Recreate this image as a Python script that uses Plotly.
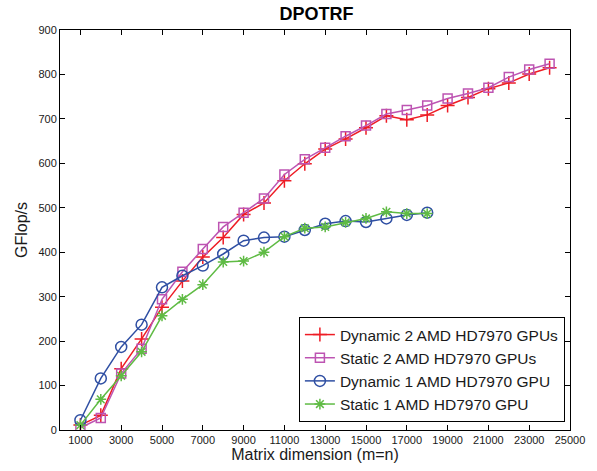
import plotly.graph_objects as go

# Matrix sizes (m = n)
sizes_2gpu = [1000, 2000, 3000, 4000, 5000, 6000, 7000, 8000, 9000, 10000, 11000, 12000,
              13000, 14000, 15000, 16000, 17000, 18000, 19000, 20000, 21000, 22000, 23000, 24000]
sizes_1gpu = [1000, 2000, 3000, 4000, 5000, 6000, 7000, 8000, 9000, 10000, 11000, 12000,
              13000, 14000, 15000, 16000, 17000, 18000]

# Performance in GFlop/s
dynamic_2gpu = [11, 33, 138, 205, 276, 335, 389, 433, 485, 511, 561, 599,
                632, 655, 680, 707, 698, 709, 730, 748, 768, 781, 801, 815]
static_2gpu = [5, 27, 127, 183, 294, 356, 407, 457, 489, 521, 575, 609,
               635, 661, 685, 711, 720, 730, 746, 757, 770, 794, 811, 824]
dynamic_1gpu = [22, 116, 187, 237, 321, 347, 370, 396, 426, 433, 435, 450,
                464, 470, 468, 476, 484, 489]
static_1gpu = [11, 69, 122, 176, 257, 294, 327, 378, 380, 400, 435, 454,
               457, 467, 476, 491, 487, 487]

x_ticks = list(range(1000, 25001, 2000))
x_tick_labels = [str(v) for v in x_ticks]
y_ticks = list(range(0, 901, 100))
y_tick_labels = [str(v) for v in y_ticks]

series = [
    ("Dynamic 2 AMD HD7970 GPUs", sizes_2gpu, dynamic_2gpu, "#ee1c25", "cross-thin", 10),
    ("Static 2 AMD HD7970 GPUs", sizes_2gpu, static_2gpu, "#bd54b2", "square-open", 9),
    ("Dynamic 1 AMD HD7970 GPU", sizes_1gpu, dynamic_1gpu, "#2f4fa3", "circle-open", 11),
    ("Static 1 AMD HD7970 GPU", sizes_1gpu, static_1gpu, "#5fbb44", "asterisk-open", 9),
]

FONT = "Liberation Sans, Arial, sans-serif"

fig = go.Figure()
for name, xs, ys, color, symbol, size in series:
    fig.add_trace(go.Scatter(
        x=xs, y=ys, name=name, mode="lines+markers",
        line=dict(color=color, width=1.5),
        marker=dict(symbol=symbol, size=size, color=color,
                    line=dict(color=color, width=1.5)),
    ))

axis_common = dict(
    showline=True, linecolor="black", linewidth=1, mirror="ticks",
    ticks="inside", ticklen=5, tickcolor="black", showgrid=False, zeroline=False,
    tickfont=dict(family=FONT, size=11, color="#1a1a1a"),
)

fig.update_layout(
    width=597, height=471,
    margin=dict(l=60, r=23, t=30, b=36),
    paper_bgcolor="white", plot_bgcolor="white",
    title=dict(text="<b>DPOTRF</b>", x=0.53, xanchor="center", y=0.97, yanchor="middle",
               font=dict(family=FONT, size=18, color="black")),
    xaxis=dict(range=[0, 25000], tickvals=x_ticks, ticktext=x_tick_labels,
               title=dict(text="Matrix dimension (m=n)", standoff=2,
                          font=dict(family=FONT, size=16, color="#1a1a1a")),
               **axis_common),
    yaxis=dict(range=[0, 900], tickvals=y_ticks, ticktext=y_tick_labels,
               title=dict(text="GFlop/s", standoff=6,
                          font=dict(family=FONT, size=16, color="#1a1a1a")),
               **axis_common),
    legend=dict(x=0.99, xanchor="right", y=0.02, yanchor="bottom",
                bgcolor="white", bordercolor="black", borderwidth=1,
                font=dict(family=FONT, size=15.5, color="#1a1a1a"),
                tracegroupgap=0, itemwidth=30),
)

fig.write_html("out.html")
